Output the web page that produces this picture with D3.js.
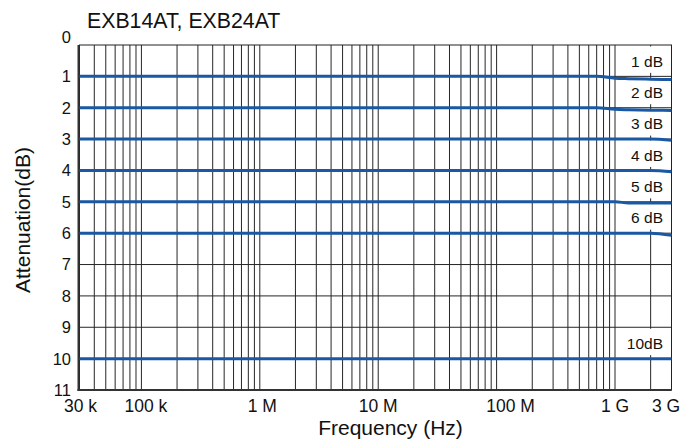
<!DOCTYPE html>
<html>
<head>
<meta charset="utf-8">
<script src="https://cdn.jsdelivr.net/npm/d3@7"></script>
<style>
  html, body { margin: 0; padding: 0; background: #fff; }
  svg { display: block; font-family: "Liberation Sans", Arial, sans-serif; }
</style>
</head>
<body>
<svg id="chart" width="700" height="444"></svg>
<script>
// ---------- data ----------
const title = "EXB14AT, EXB24AT";
const xTitle = "Frequency (Hz)";
const yTitle = "Attenuation(dB)";
const freqs = [3e4, 1e6, 1e8, 7e8, 1e9, 1.3e9, 2e9, 3e9];
const seriesNames = ["1 dB", "2 dB", "3 dB", "4 dB", "5 dB", "6 dB", "10dB"];
const seriesNominal = [1, 2, 3, 4, 5, 6, 10];
const att1 = [1, 1, 1, 1, 1.06, 1.075, 1.09, 1.1];
const att2 = [2, 2, 2, 2, 2.05, 2.065, 2.08, 2.085];
const att3 = [3, 3, 3, 3, 3, 3, 3, 3.04];
const att4 = [4, 4, 4, 4, 4, 4, 4, 4.045];
const att5 = [5, 5, 5, 5, 5, 5.035, 5.04, 5.04];
const att6 = [6, 6, 6, 6, 6, 6, 6, 6.07];
const att10 = [10, 10, 10, 10, 10, 10, 10, 10];
const seriesValues = [att1, att2, att3, att4, att5, att6, att10];
const xTickValues = [3e4, 1e5, 1e6, 1e7, 1e8, 1e9, 3e9];
const xTickLabels = ["30 k", "100 k", "1 M", "10 M", "100 M", "1 G", "3 G"];
const yTickValues = [0, 1, 2, 3, 4, 5, 6, 7, 8, 9, 10, 11];
const xGridValues = [4e4, 5e4, 6e4, 7e4, 8e4, 9e4, 1e5,
  2e5, 3e5, 4e5, 5e5, 6e5, 7e5, 8e5, 9e5, 1e6,
  2e6, 3e6, 4e6, 5e6, 6e6, 7e6, 8e6, 9e6, 1e7,
  2e7, 3e7, 4e7, 5e7, 6e7, 7e7, 8e7, 9e7, 1e8,
  2e8, 3e8, 4e8, 5e8, 6e8, 7e8, 8e8, 9e8, 1e9, 2e9];

// ---------- layout ----------
const svg = d3.select("#chart");
const mL = 79.5, mR = 671.5, mT = 45, mB = 390;
const x = d3.scaleLog().domain([3e4, 3e9]).range([mL, mR]);
const y = d3.scaleLinear().domain([0, 11]).range([mT, mB]);
const gridColor = "#262626";
const lineColor = "#1a58a3";
const textColor = "#111";

// grid verticals
svg.append("g").selectAll("line").data(xGridValues).join("line")
  .attr("x1", d => x(d)).attr("x2", d => x(d))
  .attr("y1", mT).attr("y2", mB)
  .attr("stroke", gridColor).attr("stroke-width", 1);

// grid horizontals
svg.append("g").selectAll("line").data(yTickValues.slice(1, -1)).join("line")
  .attr("x1", mL).attr("x2", mR)
  .attr("y1", d => y(d)).attr("y2", d => y(d))
  .attr("stroke", gridColor).attr("stroke-width", 1);

// label boxes (white) behind curves
const boxG = svg.append("g");
seriesNominal.forEach((n, i) => {
  boxG.append("rect")
    .attr("x", x(1e9) + 1.5).attr("width", mR - x(1e9) - 2.5)
    .attr("y", y(n - 1) + 1.5).attr("height", y(n) - y(n - 1) - 5)
    .attr("fill", "#fff");
  boxG.append("text")
    .attr("x", mR - 8.5).attr("y", y(n) - 9.8)
    .attr("text-anchor", "end").attr("font-size", 15.5).attr("fill", textColor)
    .text(seriesNames[i]);
});

// frame
svg.append("rect").attr("x", mL).attr("y", mT)
  .attr("width", mR - mL).attr("height", mB - mT)
  .attr("fill", "none").attr("stroke", "#222").attr("stroke-width", 1);
svg.append("line").attr("x1", mL - 1).attr("x2", mL - 1).attr("y1", mT).attr("y2", mB + 1)
  .attr("stroke", "#333").attr("stroke-width", 2);
svg.append("line").attr("x1", mL - 2).attr("x2", mR).attr("y1", mB).attr("y2", mB)
  .attr("stroke", "#333").attr("stroke-width", 2);

// curves
const line = d3.line().x((d, i) => x(freqs[i])).y(d => y(d)).curve(d3.curveMonotoneX);
svg.append("g").selectAll("path").data(seriesValues).join("path")
  .attr("d", d => line(d))
  .attr("fill", "none").attr("stroke", lineColor).attr("stroke-width", 3);

// y tick labels
svg.append("g").selectAll("text").data(yTickValues).join("text")
  .attr("x", 71).attr("y", d => d === 0 ? y(d) - 7.5 : y(d))
  .attr("dy", "0.36em").attr("text-anchor", "end")
  .attr("font-size", 16.5).attr("fill", textColor).text(d => d);

// x tick labels
const xLabelShift = {"30 k": 1, "100 k": 4.5, "1 M": 2.5, "100 M": 14, "3 G": -5.5};
svg.append("g").selectAll("text").data(xTickValues).join("text")
  .attr("x", (d, i) => x(d) + (xLabelShift[xTickLabels[i]] || 0))
  .attr("y", 412).attr("text-anchor", "middle")
  .attr("font-size", 17.5).attr("fill", textColor)
  .text((d, i) => xTickLabels[i]);

// titles
svg.append("text").attr("x", 87).attr("y", 27.5).attr("font-size", 21.3).attr("fill", textColor).text(title);
svg.append("text").attr("x", 390.5).attr("y", 435)
  .attr("text-anchor", "middle").attr("font-size", 21).attr("fill", textColor).text(xTitle);
svg.append("text").attr("transform", `translate(30,220) rotate(-90)`)
  .attr("text-anchor", "middle").attr("font-size", 21).attr("fill", textColor).text(yTitle);
</script>
</body>
</html>
